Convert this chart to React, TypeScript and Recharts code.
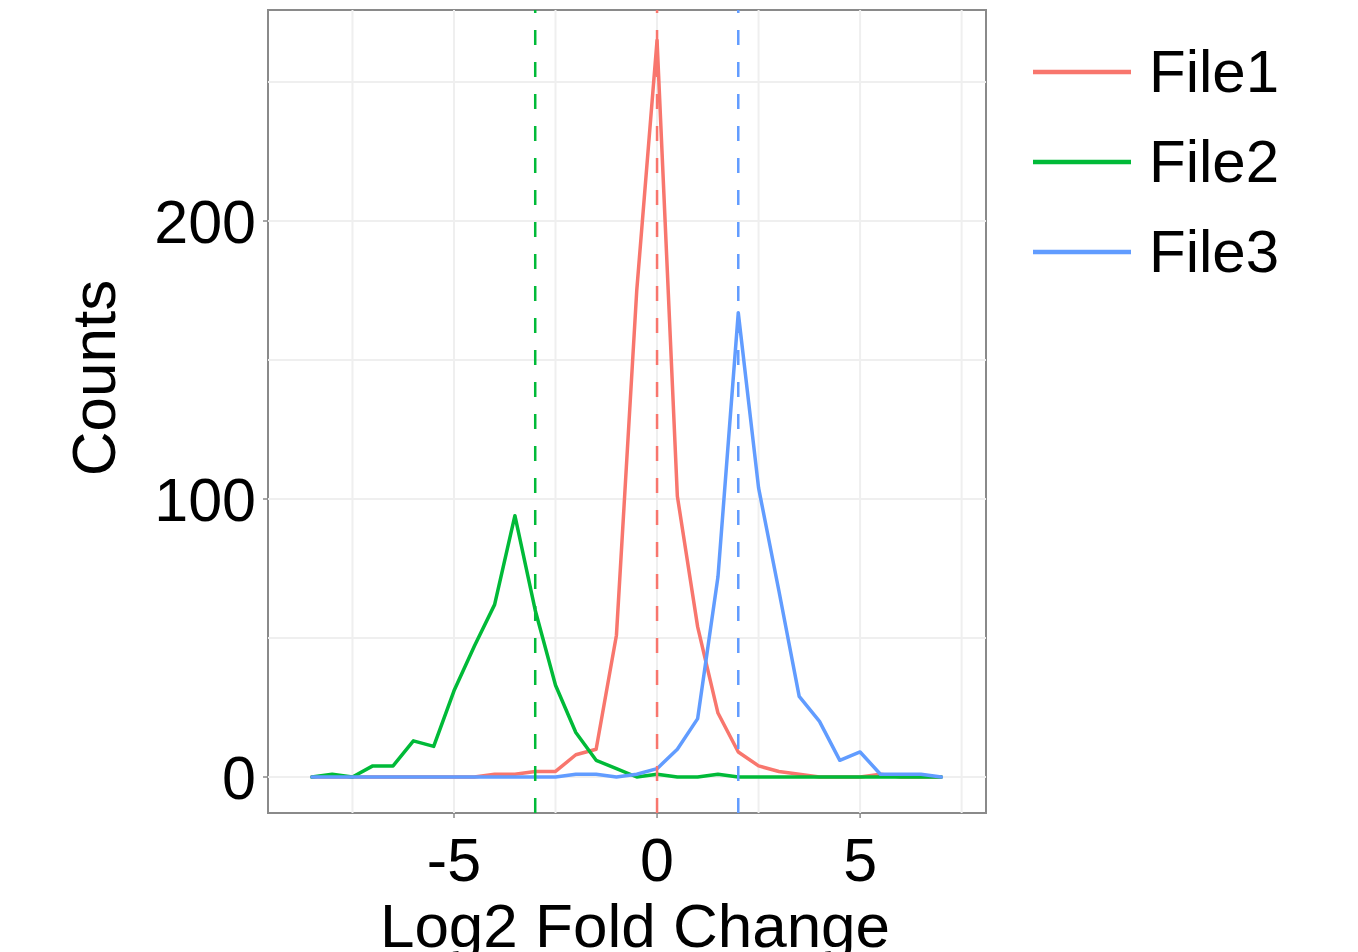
import React from "react";
import { LineChart, Line, XAxis, YAxis, ReferenceLine, ReferenceArea, Legend } from "recharts";

// log2 fold change bins (frequency polygon, bin width 0.5)
const bins = [
  -8.5, -8, -7.5, -7, -6.5, -6, -5.5, -5, -4.5, -4, -3.5, -3, -2.5, -2, -1.5, -1,
  -0.5, 0, 0.5, 1, 1.5, 2, 2.5, 3, 3.5, 4, 4.5, 5, 5.5, 6, 6.5, 7,
];
const file1 = [
  0, 0, 0, 0, 0, 0, 0, 0, 0, 1, 1, 2, 2, 8, 10, 51,
  175, 265, 101, 54, 23, 9, 4, 2, 1, 0, 0, 0, 1, 0, 0, 0,
];
const file2 = [
  0, 1, 0, 4, 4, 13, 11, 31, 47, 62, 94, 60, 33, 16, 6, 3,
  0, 1, 0, 0, 1, 0, 0, 0, 0, 0, 0, 0, 0, 0, 0, 0,
];
const file3 = [
  0, 0, 0, 0, 0, 0, 0, 0, 0, 0, 0, 0, 0, 1, 1, 0,
  1, 3, 10, 21, 72, 167, 104, 67, 29, 20, 6, 9, 1, 1, 1, 0,
];
const seriesNames = ["File1", "File2", "File3"];
const seriesColors = ["#F8766D", "#00BA38", "#619CFF"];
// dashed marker per file (x position)
const markers = [0, -3, 2];

const xTicks = [-7.5, -5, -2.5, 0, 2.5, 5, 7.5];
const xMajor = [-5, 0, 5];
const yTicks = [0, 50, 100, 150, 200, 250];
const yMajor = [0, 100, 200];
const xDomain: [number, number] = [-9.58, 8.1];
const yDomain: [number, number] = [-12.95, 275.9];

const data = bins.map((x, i) => ({ x, File1: file1[i], File2: file2[i], File3: file3[i] }));

const FONT = "'Liberation Sans', Arial, Helvetica, sans-serif";
const AXIS_GREY = "#8a8a8a";
const PLOT_BOTTOM = 813;
const PLOT_LEFT = 268;

function XTick(props: any) {
  const { x, payload } = props;
  if (!xMajor.includes(payload.value)) return <g />;
  return (
    <g>
      <line x1={x} x2={x} y1={PLOT_BOTTOM} y2={PLOT_BOTTOM + 5} stroke={AXIS_GREY} strokeWidth={1.5} />
      <text x={x} y={881} textAnchor="middle" fontSize={61} fill="#000" fontFamily={FONT}>
        {payload.value}
      </text>
    </g>
  );
}

function YTick(props: any) {
  const { y, payload } = props;
  if (!yMajor.includes(payload.value)) return <g />;
  return (
    <g>
      <line x1={PLOT_LEFT - 5} x2={PLOT_LEFT} y1={y} y2={y} stroke={AXIS_GREY} strokeWidth={1.5} />
      <text x={256} y={y} dy="0.36em" textAnchor="end" fontSize={61} fill="#000" fontFamily={FONT}>
        {payload.value}
      </text>
    </g>
  );
}

function LegendBox() {
  return (
    <div style={{ fontFamily: FONT }}>
      {seriesNames.map((name, i) => (
        <div key={name} style={{ display: "flex", alignItems: "center", height: 90 }}>
          <svg width={100} height={10}>
            <line x1={1} x2={99} y1={5} y2={5} stroke={seriesColors[i]} strokeWidth={4.5} />
          </svg>
          <span style={{ fontSize: 60, marginLeft: 17, color: "#000", lineHeight: "60px" }}>{name}</span>
        </div>
      ))}
    </div>
  );
}

export default function App() {
  return (
    <div style={{ position: "absolute", left: 0, top: 0, width: 1358, height: 952, background: "#fff" }}>
      <LineChart
        width={1358}
        height={952}
        data={data}
        margin={{ top: 10, right: 372, bottom: 0, left: 0 }}
      >
        {xTicks.map((t) => (
          <ReferenceLine key={"gx" + t} x={t} stroke="#efefef" strokeWidth={2} />
        ))}
        {yTicks.map((t) => (
          <ReferenceLine key={"gy" + t} y={t} stroke="#efefef" strokeWidth={2} />
        ))}
        <XAxis
          type="number"
          dataKey="x"
          domain={xDomain}
          ticks={xTicks}
          allowDataOverflow
          axisLine={false}
          tickLine={false}
          tick={<XTick />}
          height={139}
          interval={0}
          label={{
            content: () => (
              <text x={635} y={947} textAnchor="middle" fontSize={62} fill="#000" fontFamily={FONT}>
                Log2 Fold Change
              </text>
            ),
          }}
        />
        <YAxis
          type="number"
          domain={yDomain}
          ticks={yTicks}
          allowDataOverflow
          axisLine={false}
          tickLine={false}
          tick={<YTick />}
          width={268}
          interval={0}
          label={{
            content: () => (
              <text
                x={115}
                y={378}
                transform="rotate(-90 115 378)"
                textAnchor="middle"
                fontSize={62}
                fill="#000"
                fontFamily={FONT}
              >
                Counts
              </text>
            ),
          }}
        />
        {seriesNames.map((name, i) => (
          <Line
            key={name}
            type="linear"
            dataKey={name}
            stroke={seriesColors[i]}
            strokeWidth={3.5}
            strokeLinejoin="round"
            strokeLinecap="round"
            dot={false}
            activeDot={false}
            isAnimationActive={false}
          />
        ))}
        {markers.map((m, i) => (
          <ReferenceLine
            key={"m" + i}
            x={m}
            stroke={seriesColors[i]}
            strokeWidth={2.5}
            strokeDasharray="15 17"
          />
        ))}
        <ReferenceArea
          x1={xDomain[0]}
          x2={xDomain[1]}
          y1={yDomain[0]}
          y2={yDomain[1]}
          fill="none"
          fillOpacity={0}
          stroke={AXIS_GREY}
          strokeWidth={2}
        />
        <Legend
          layout="vertical"
          align="center"
          verticalAlign="middle"
          content={() => <LegendBox />}
          wrapperStyle={{ left: 1032, top: 27, width: 320, height: 280 }}
        />
      </LineChart>
    </div>
  );
}
